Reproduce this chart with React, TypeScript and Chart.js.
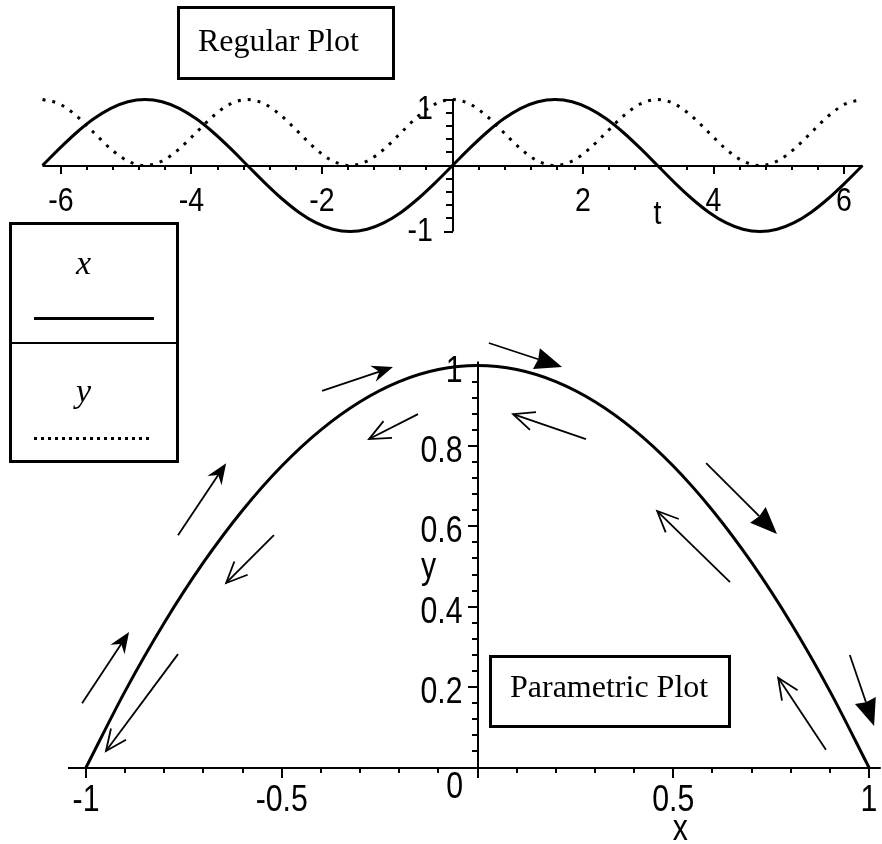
import React, { useEffect, useRef } from 'react';
import { Chart, registerables } from 'chart.js';
Chart.register(...registerables);

// ---------- data: regular plot (t, x(t), y(t)) ----------
const tValues = [
  -6.283, -6.021, -5.76, -5.498, -5.236, -4.974, -4.712, -4.451, -4.189, -3.927, -3.665, -3.403,
  -3.142, -2.88, -2.618, -2.356, -2.094, -1.833, -1.571, -1.309, -1.047, -0.785, -0.524, -0.262,
  0, 0.262, 0.524, 0.785, 1.047, 1.309, 1.571, 1.833, 2.094, 2.356, 2.618, 2.88,
  3.142, 3.403, 3.665, 3.927, 4.189, 4.451, 4.712, 4.974, 5.236, 5.498, 5.76, 6.021, 6.283,
];
const xSeries = [
  0, 0.259, 0.5, 0.707, 0.866, 0.966, 1, 0.966, 0.866, 0.707, 0.5, 0.259,
  0, -0.259, -0.5, -0.707, -0.866, -0.966, -1, -0.966, -0.866, -0.707, -0.5, -0.259,
  0, 0.259, 0.5, 0.707, 0.866, 0.966, 1, 0.966, 0.866, 0.707, 0.5, 0.259,
  0, -0.259, -0.5, -0.707, -0.866, -0.966, -1, -0.966, -0.866, -0.707, -0.5, -0.259, 0,
];
const ySeries = [
  1, 0.933, 0.75, 0.5, 0.25, 0.067, 0, 0.067, 0.25, 0.5, 0.75, 0.933,
  1, 0.933, 0.75, 0.5, 0.25, 0.067, 0, 0.067, 0.25, 0.5, 0.75, 0.933,
  1, 0.933, 0.75, 0.5, 0.25, 0.067, 0, 0.067, 0.25, 0.5, 0.75, 0.933,
  1, 0.933, 0.75, 0.5, 0.25, 0.067, 0, 0.067, 0.25, 0.5, 0.75, 0.933, 1,
];
const tMin = -6.2832;
const tMax = 6.2832;

// ---------- data: parametric plot ----------
const paraX = [-1, -0.9, -0.8, -0.7, -0.6, -0.5, -0.4, -0.3, -0.2, -0.1, 0, 0.1, 0.2, 0.3, 0.4, 0.5, 0.6, 0.7, 0.8, 0.9, 1];
const paraY = [0, 0.19, 0.36, 0.51, 0.64, 0.75, 0.84, 0.91, 0.96, 0.99, 1, 0.99, 0.96, 0.91, 0.84, 0.75, 0.64, 0.51, 0.36, 0.19, 0];

// ---------- tick labels ----------
const topXTickValues = [-6, -4, -2, 2, 4, 6];
const topXTickLabels = ['-6', '-4', '-2', '2', '4', '6'];
const topYTickValues = [-1, 1];
const topYTickLabels = ['-1', '1'];
const botXTickValues = [-1, -0.5, 0.5, 1];
const botXTickLabels = ['-1', '-0.5', '0.5', '1'];
const botYTickValues = [0.2, 0.4, 0.6, 0.8, 1];
const botYTickLabels = ['0.2', '0.4', '0.6', '0.8', '1'];

// ---------- direction arrows (data coordinates of parametric plot) ----------
const arrowFromX = [-0.397, -0.152, -0.765, -0.52, -1.01, -0.765, 0.029, 0.277, 0.584, 0.645, 0.951, 0.89];
const arrowFromY = [0.937, 0.879, 0.578, 0.578, 0.16, 0.282, 1.056, 0.817, 0.757, 0.461, 0.28, 0.044];
const arrowToX = [-0.216, -0.277, -0.642, -0.642, -0.89, -0.949, 0.216, 0.091, 0.765, 0.459, 1.013, 0.768];
const arrowToY = [0.996, 0.817, 0.757, 0.459, 0.337, 0.041, 0.996, 0.879, 0.581, 0.638, 0.103, 0.223];
const arrowHeads = ['small', 'open', 'small', 'open', 'small', 'open', 'big', 'open', 'big', 'open', 'big', 'open'];

const W = 882;
const H = 844;
const TICK_FONT_TOP = "34px 'Liberation Sans', Arial, sans-serif";
const TICK_FONT_BOT = "36px 'Liberation Sans', Arial, sans-serif";
const NARROW = 0.84;

function seg(ctx: CanvasRenderingContext2D, x1: number, y1: number, x2: number, y2: number) {
  ctx.beginPath();
  ctx.moveTo(x1, y1);
  ctx.lineTo(x2, y2);
  ctx.stroke();
}

function label(ctx: CanvasRenderingContext2D, text: string, x: number, y: number, align: CanvasTextAlign) {
  ctx.save();
  ctx.translate(x, y);
  ctx.scale(NARROW, 1);
  ctx.textAlign = align;
  ctx.textBaseline = 'alphabetic';
  ctx.fillText(text, 0, 0);
  ctx.restore();
}

const topAxesPlugin = {
  id: 'topAxes',
  afterDatasetsDraw(chart: any) {
    const ctx: CanvasRenderingContext2D = chart.ctx;
    const xs = chart.scales.x;
    const ys = chart.scales.y;
    const y0 = Math.round(ys.getPixelForValue(0));
    const x0 = Math.round(xs.getPixelForValue(0));
    ctx.save();
    ctx.strokeStyle = '#000';
    ctx.fillStyle = '#000';
    ctx.lineWidth = 2;
    seg(ctx, xs.getPixelForValue(tMin), y0, xs.getPixelForValue(tMax), y0);
    for (let k = -15; k <= 15; k++) {
      const px = Math.round(xs.getPixelForValue(k * 0.4));
      seg(ctx, px, y0, px, y0 + (k % 5 === 0 ? 8 : 4));
    }
    seg(ctx, x0, ys.getPixelForValue(-1), x0, ys.getPixelForValue(1));
    for (let k = -5; k <= 5; k++) {
      const py = Math.round(ys.getPixelForValue(k * 0.2));
      seg(ctx, x0 - (Math.abs(k) === 5 ? 9 : 7), py, x0, py);
    }
    ctx.font = TICK_FONT_TOP;
    topXTickValues.forEach((v, i) => label(ctx, topXTickLabels[i], xs.getPixelForValue(v), y0 + 44.5, 'center'));
    label(ctx, 't', xs.getPixelForValue(Math.PI), y0 + 57.5, 'center');
    const top = chart.chartArea.top;
    topYTickValues.forEach((v, i) => {
      const py = ys.getPixelForValue(v);
      const base = Math.max(py + 9, top + 19.5);
      label(ctx, topYTickLabels[i], x0 - 20, base, 'right');
    });
    ctx.restore();
  },
};

function drawArrow(ctx: CanvasRenderingContext2D, x0: number, y0: number, x1: number, y1: number, head: string) {
  const ang = Math.atan2(y1 - y0, x1 - x0);
  const c = Math.cos(ang);
  const s = Math.sin(ang);
  ctx.lineWidth = 1.8;
  if (head === 'open') {
    seg(ctx, x0, y0, x1, y1);
    const L = 23;
    const a = 0.42;
    ctx.beginPath();
    ctx.moveTo(x1 - L * Math.cos(ang - a), y1 - L * Math.sin(ang - a));
    ctx.lineTo(x1, y1);
    ctx.lineTo(x1 - L * Math.cos(ang + a), y1 - L * Math.sin(ang + a));
    ctx.stroke();
    return;
  }
  const L = head === 'big' ? 27 : 21;
  const Wd = head === 'big' ? 11 : 8.5;
  const notch = head === 'big' ? 0.93 : 0.68;
  const bx = x1 - L * c;
  const by = y1 - L * s;
  const nx = x1 - L * notch * c;
  const ny = y1 - L * notch * s;
  seg(ctx, x0, y0, nx, ny);
  ctx.beginPath();
  ctx.moveTo(x1, y1);
  ctx.lineTo(bx - Wd * s, by + Wd * c);
  ctx.lineTo(nx, ny);
  ctx.lineTo(bx + Wd * s, by - Wd * c);
  ctx.closePath();
  ctx.fill();
}

const botAxesPlugin = {
  id: 'botAxes',
  afterDatasetsDraw(chart: any) {
    const ctx: CanvasRenderingContext2D = chart.ctx;
    const xs = chart.scales.x;
    const ys = chart.scales.y;
    const y0 = Math.round(ys.getPixelForValue(0));
    const x0 = Math.round(xs.getPixelForValue(0));
    ctx.save();
    ctx.strokeStyle = '#000';
    ctx.fillStyle = '#000';
    ctx.lineWidth = 2;
    seg(ctx, xs.getPixelForValue(-1.046), y0, xs.getPixelForValue(1.03), y0);
    for (let k = -10; k <= 10; k++) {
      const px = Math.round(xs.getPixelForValue(k * 0.1));
      seg(ctx, px, y0, px, y0 + (k % 5 === 0 ? 10 : 5));
    }
    seg(ctx, x0, y0, x0, ys.getPixelForValue(1.01));
    for (let k = 1; k <= 25; k++) {
      const py = Math.round(ys.getPixelForValue(k * 0.04));
      seg(ctx, x0 - (k % 5 === 0 ? 10 : 6), py, x0, py);
    }
    ctx.font = TICK_FONT_BOT;
    botXTickValues.forEach((v, i) => label(ctx, botXTickLabels[i], xs.getPixelForValue(v), y0 + 42.5, 'center'));
    label(ctx, 'x', xs.getPixelForValue(0.5) + 7, y0 + 71.5, 'center');
    label(ctx, '0', x0 - 15, y0 + 29.5, 'right');
    botYTickValues.forEach((v, i) => label(ctx, botYTickLabels[i], x0 - 15.5, ys.getPixelForValue(v) + 16, 'right'));
    label(ctx, 'y', x0 - 49.5, ys.getPixelForValue(0.5) + 11, 'center');
    // direction arrows
    for (let i = 0; i < arrowHeads.length; i++) {
      drawArrow(
        ctx,
        xs.getPixelForValue(arrowFromX[i]),
        ys.getPixelForValue(arrowFromY[i]),
        xs.getPixelForValue(arrowToX[i]),
        ys.getPixelForValue(arrowToY[i]),
        arrowHeads[i]
      );
    }
    ctx.restore();
  },
};

const canvasStyle: React.CSSProperties = { position: 'absolute', left: 0, top: 0, width: W, height: H };

export default function App() {
  const topRef = useRef<HTMLCanvasElement>(null);
  const botRef = useRef<HTMLCanvasElement>(null);

  useEffect(() => {
    const top = new Chart(topRef.current!, {
      type: 'scatter',
      data: {
        datasets: [
          {
            data: tValues.map((t, i) => ({ x: t, y: xSeries[i] })),
            showLine: true,
            borderColor: '#000',
            borderWidth: 3,
            pointRadius: 0,
            cubicInterpolationMode: 'monotone',
            clip: false,
          } as any,
          {
            data: tValues.map((t, i) => ({ x: t, y: ySeries[i] })),
            showLine: true,
            borderColor: '#000',
            borderWidth: 3,
            borderDash: [3, 7],
            pointRadius: 0,
            cubicInterpolationMode: 'monotone',
            clip: false,
          } as any,
        ],
      },
      options: {
        responsive: false,
        animation: false,
        events: [],
        layout: { padding: { left: 42.5, right: W - 862.5, top: 99.5, bottom: H - 231.5 } },
        scales: {
          x: { type: 'linear', min: tMin, max: tMax, display: false },
          y: { type: 'linear', min: -1, max: 1, display: false },
        },
        plugins: { legend: { display: false }, tooltip: { enabled: false } },
      },
      plugins: [topAxesPlugin],
    });

    const bot = new Chart(botRef.current!, {
      type: 'scatter',
      data: {
        datasets: [
          {
            data: paraX.map((x, i) => ({ x, y: paraY[i] })),
            showLine: true,
            borderColor: '#000',
            borderWidth: 3,
            pointRadius: 0,
            cubicInterpolationMode: 'monotone',
            clip: false,
          } as any,
        ],
      },
      options: {
        responsive: false,
        animation: false,
        events: [],
        layout: { padding: { left: 86, right: W - 869, top: 365.5, bottom: H - 767.5 } },
        scales: {
          x: { type: 'linear', min: -1, max: 1, display: false },
          y: { type: 'linear', min: 0, max: 1, display: false },
        },
        plugins: { legend: { display: false }, tooltip: { enabled: false } },
      },
      plugins: [botAxesPlugin],
    });

    return () => {
      top.destroy();
      bot.destroy();
    };
  }, []);

  const serif = "'Liberation Serif', 'Times New Roman', serif";
  const box: React.CSSProperties = { position: 'absolute', boxSizing: 'border-box', border: '3px solid #000', background: 'transparent' };
  const txt: React.CSSProperties = { position: 'absolute', fontFamily: serif, lineHeight: 1, whiteSpace: 'nowrap', color: '#000' };

  return (
    <div style={{ position: 'absolute', left: 0, top: 0, width: W, height: H, background: '#fff', overflow: 'hidden' }}>
      <canvas ref={botRef} width={W} height={H} style={canvasStyle} />
      <canvas ref={topRef} width={W} height={H} style={canvasStyle} />
      {/* title boxes */}
      <div style={{ ...box, left: 177, top: 6, width: 218, height: 74 }} />
      <div style={{ ...txt, left: 198, top: 24, fontSize: 32 }}>Regular Plot</div>
      <div style={{ ...box, left: 489, top: 655, width: 242, height: 73 }} />
      <div style={{ ...txt, left: 510, top: 670, fontSize: 32 }}>Parametric Plot</div>
      {/* legend */}
      <div style={{ ...box, left: 9, top: 222, width: 170, height: 241 }} />
      <div style={{ position: 'absolute', left: 9, top: 342, width: 170, height: 2, background: '#000' }} />
      <div style={{ ...txt, left: 76, top: 246, fontSize: 34, fontStyle: 'italic' }}>x</div>
      <div style={{ position: 'absolute', left: 34, top: 317, width: 120, height: 3, background: '#000' }} />
      <div style={{ ...txt, left: 76, top: 374, fontSize: 34, fontStyle: 'italic' }}>y</div>
      <div
        style={{
          position: 'absolute',
          left: 34,
          top: 437,
          width: 117,
          height: 3,
          background: 'repeating-linear-gradient(to right, #000 0 3px, transparent 3px 7px)',
        }}
      />
    </div>
  );
}
